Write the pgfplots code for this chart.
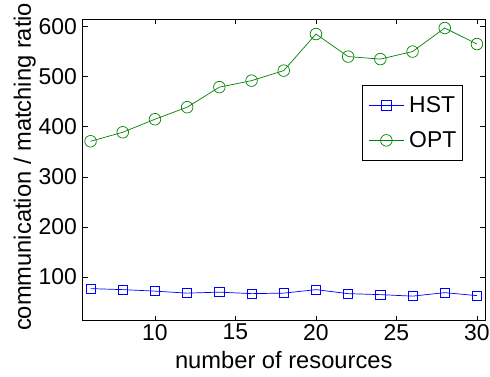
\documentclass[border=0pt]{standalone}
\usepackage{pgfplots}
\pgfplotsset{compat=1.18}
\usepackage{fontspec}
\setmainfont{Liberation Sans}
\definecolor{mblue}{rgb}{0,0,1}
\definecolor{mgreen}{rgb}{0,0.5,0}
\begin{document}
\begin{tikzpicture}
\begin{axis}[
  name=ax,
  scale only axis,
  width=402.5bp, height=301.7bp,
  xmin=5.5, xmax=30.5,
  ymin=13, ymax=615,
  xtick={10,15,20,25,30},
  ytick={100,200,300,400,500,600},
  tick align=inside,
  major tick length=5bp,
  /pgf/number format/assume math mode=true,
  tick label style={font=\fontsize{23}{23}\selectfont},
  xticklabel style={inner sep=0pt, yshift=-3.3bp},
  yticklabel style={inner sep=0pt, xshift=-5.5bp},
  label style={font=\fontsize{23.8}{24}\selectfont},
  xlabel={number of resources},
  ylabel={communication / matching ratio},
  xlabel style={at={(axis description cs:0.5,0)}, anchor=base, yshift=-47.3bp, inner sep=0pt},
  ylabel style={at={(axis description cs:0,0.5)}, anchor=base, yshift=51.5bp, xshift=3bp, inner sep=0pt},
  axis line style={line width=0.8bp},
  every tick/.style={black, line width=0.6bp},
  legend style={at={(0.9446,0.7812)}, anchor=north east,
    font=\fontsize{23}{23}\selectfont, draw=black, line width=0.7bp,
    inner xsep=6bp, inner ysep=2.5bp, row sep=0bp,
    nodes={inner sep=0pt, text height=25bp, text depth=10bp}},
  legend image code/.code={%
    \path (0bp,0bp) (40bp,0bp);
    \draw[mark repeat=2, mark phase=2] plot coordinates {(0bp,0bp) (17.5bp,0bp) (35bp,0bp)};},
  legend cell align=left,
]
\addplot[color=mblue, line width=0.7bp, mark=square, mark size=4.6bp, mark options={solid, line width=0.7bp}] coordinates {
(6,77) (8,75) (10,72) (12,68) (14,70) (16,67) (18,68) (20,75) (22,67) (24,65) (26,62) (28,69) (30,63)
};
\addlegendentry{HST}
\addplot[color=mgreen, line width=0.7bp, mark=o, mark size=5.8bp, mark options={solid, line width=0.7bp}] coordinates {
(6,371) (8,389) (10,415) (12,439) (14,479) (16,492) (18,512) (20,585) (22,540) (24,535) (26,550) (28,597) (30,565)
};
\addlegendentry{OPT}
\end{axis}
\pgfresetboundingbox
\path ([shift={(-82.5bp,-56.3bp)}]ax.south west) rectangle ([shift={(5bp,19bp)}]ax.north east);
\end{tikzpicture}
\end{document}
